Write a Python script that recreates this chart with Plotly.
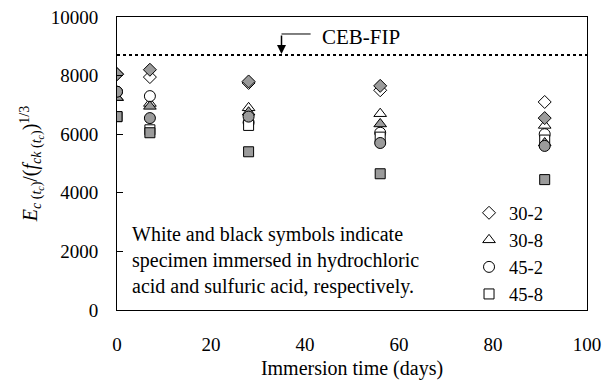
import plotly.graph_objects as go

# Immersion time (days)
days = [0, 7, 28, 56, 91]

# Hydrochloric acid (open symbols)
hcl_30_2 = [8050, 7950, 7750, 7500, 7100]
hcl_30_8 = [7250, 7050, 6900, 6700, 6300]
hcl_45_2 = [7450, 7300, 6400, 6050, 6000]
hcl_45_8 = [6600, 6150, 6300, 5900, 5800]

# Sulfuric acid (grey symbols)
h2so4_30_2 = [8050, 8200, 7800, 7650, 6550]
h2so4_30_8 = [7250, 6950, 6750, 6350, 5700]
h2so4_45_2 = [7450, 6550, 6600, 5700, 5600]
h2so4_45_8 = [6600, 6050, 5400, 4650, 4450]

series_names = ["30-2", "30-8", "45-2", "45-8"]
symbols = ["diamond", "triangle-up", "circle", "square"]
sizes = [10, 11, 11, 10]

ceb_fip = 8700
ceb_label_day = 35

FONT = '"Times New Roman", "Liberation Serif", serif'
GREY = "#9b9b9b"
TXT = 20

fig = go.Figure()

hcl = [hcl_30_2, hcl_30_8, hcl_45_2, hcl_45_8]
h2so4 = [h2so4_30_2, h2so4_30_8, h2so4_45_2, h2so4_45_8]

for name, sym, sz, vals in zip(series_names, symbols, sizes, hcl):
    fig.add_trace(go.Scatter(
        x=days, y=vals, mode="markers", name=name,
        marker=dict(symbol=sym, size=sz, color="white",
                    line=dict(color="black", width=1)),
        showlegend=True,
    ))

for name, sym, sz, vals in zip(series_names, symbols, sizes, h2so4):
    fig.add_trace(go.Scatter(
        x=days, y=vals, mode="markers", name=name + " (H2SO4)",
        marker=dict(symbol=sym, size=sz, color=GREY,
                    line=dict(color="black", width=1)),
        showlegend=False,
    ))

# CEB-FIP reference level
fig.add_shape(type="line", xref="paper", x0=0, x1=1, yref="y",
              y0=ceb_fip, y1=ceb_fip,
              line=dict(color="black", width=2, dash="dot"))

# Leader from the label down to the reference line
fig.add_shape(type="line", xref="x", yref="y",
              x0=ceb_label_day, x1=ceb_label_day + 6.2, y0=9420, y1=9420,
              line=dict(color="black", width=1))
fig.add_annotation(x=ceb_label_day, y=ceb_fip + 40, ax=ceb_label_day, ay=9420,
                   xref="x", yref="y", axref="x", ayref="y",
                   showarrow=True, arrowhead=2, arrowsize=1.2, arrowwidth=1.5,
                   arrowcolor="black", text="")
fig.add_annotation(x=ceb_label_day + 8.2, y=9330, xref="x", yref="y",
                   text="CEB-FIP", showarrow=False, xanchor="left", yanchor="middle",
                   font=dict(family=FONT, size=TXT + 1, color="black"))

fig.add_annotation(
    x=0.027, y=0.168, xref="paper", yref="paper", xanchor="left", yanchor="middle",
    align="left", showarrow=False,
    text="White and black symbols indicate<br>specimen immersed in hydrochloric<br>"
         "acid and sulfuric acid, respectively.",
    font=dict(family=FONT, size=TXT, color="black"),
)

fig.update_layout(
    width=602, height=383,
    margin=dict(l=117, r=15, t=17, b=73),
    paper_bgcolor="white", plot_bgcolor="white",
    font=dict(family=FONT, size=19, color="black"),
    legend=dict(x=0.749, y=0.395, xanchor="left", yanchor="top",
                bgcolor="rgba(0,0,0,0)", tracegroupgap=0,
                font=dict(family=FONT, size=18.5), itemwidth=30),
    xaxis=dict(range=[0, 100], dtick=20, showgrid=False, zeroline=False,
               showline=True, linecolor="black", linewidth=1, mirror=True,
               ticks="inside", ticklen=0, ticklabelstandoff=17,
               tickfont=dict(family=FONT, size=19), automargin=False,
               title=dict(text="Immersion time (days)", standoff=7,
                          font=dict(family=FONT, size=TXT))),
    yaxis=dict(range=[0, 10000], dtick=2000, showgrid=False, zeroline=False,
               showline=True, linecolor="black", linewidth=1, mirror=True,
               ticks="inside", ticklen=6, tickcolor="black",
               tickformat="d", ticklabelstandoff=14,
               tickfont=dict(family=FONT, size=19), automargin=False,
               title=dict(
                   text="<i>E</i><sub><i>c</i> (<i>t</i><sub><i>c</i></sub>)</sub>"
                        "/(<i>f</i><sub><i>ck</i> (<i>t</i><sub><i>c</i></sub>)</sub>)"
                        "<sup>1/3</sup>",
                   standoff=7, font=dict(family=FONT, size=TXT))),
)

fig.write_html("out.html")
